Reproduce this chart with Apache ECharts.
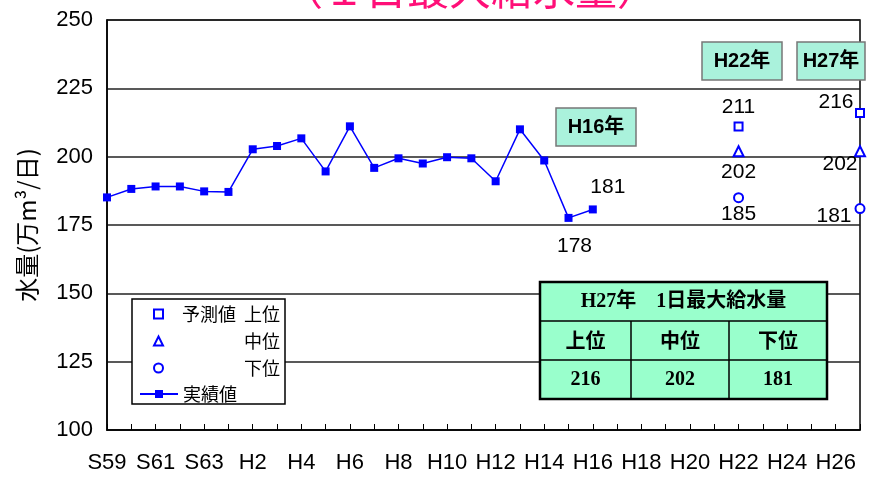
<!DOCTYPE html>
<html>
<head>
<meta charset="utf-8">
<script src="https://cdn.jsdelivr.net/npm/echarts@6.0.0/dist/echarts.min.js"></script>
<style>
  html, body { margin: 0; padding: 0; background: #fff; }
  #chart { width: 869px; height: 477px; }
</style>
</head>
<body>
<div id="chart"></div>
<script>
// 年度 S59〜H27
const years = ['S59', 'S60', 'S61', 'S62', 'S63', 'H1', 'H2', 'H3', 'H4', 'H5', 'H6', 'H7', 'H8', 'H9', 'H10',
  'H11', 'H12', 'H13', 'H14', 'H15', 'H16', 'H17', 'H18', 'H19', 'H20', 'H21', 'H22', 'H23', 'H24', 'H25', 'H26', 'H27']
// 実績値 S59〜H16（万m3/日）
const actual = [185.1, 188.2, 189.1, 189.1, 187.3, 187.1, 202.7, 203.9, 206.7, 194.6, 211.1, 195.9, 199.4, 197.5,
  199.8, 199.4, 191.0, 210.0, 198.6, 177.6, 180.7]
// 予測値
const forecastYears = ['H22', 'H27']
const forecastUpper = [211, 216]
const forecastMiddle = [202, 202]
const forecastLower = [185, 181]
// H27年 1日最大給水量 表
const tableTitle = 'H27年　1日最大給水量'
const tableHeads = ['上位', '中位', '下位']
const tableValues = [216, 202, 181]
// 注記
const yearNotes = ['H16年', 'H22年', 'H27年']

const cjk = '"Noto Sans CJK JP", sans-serif'
const latin = '"Liberation Sans", Arial, "Noto Sans CJK JP", sans-serif'
const blue = '#0000ff'

const chart = echarts.init(document.getElementById('chart'))

// ラベル位置（実績値の末尾2点のみ表示）
const actualLabelOffset = { 19: [6, 28], 20: [15, -22] }
const actualData = actual.map((v, i) => {
  const item = { value: v }
  if (actualLabelOffset[i]) {
    item.label = { show: true, position: 'inside', offset: actualLabelOffset[i] }
  }
  return item
})

function forecastData(values, offsets) {
  return forecastYears.map((y, i) => ({
    value: [y, values[i]],
    label: { show: true, position: 'inside', offset: offsets[i] },
  }))
}

const labelStyle = {
  fontFamily: latin,
  fontSize: 21,
  color: '#000',
  textBorderWidth: 0,
  textShadowBlur: 0,
  formatter: (p) => Math.round(Array.isArray(p.value) ? p.value[1] : p.value),
}

// 注記ボックス
const noteBoxes = [
  { x: 556, y: 108, w: 80, h: 38 },
  { x: 702, y: 42, w: 80, h: 38 },
  { x: 797, y: 42, w: 68, h: 38 },
]
const graphics = []
yearNotes.forEach((t, i) => {
  const b = noteBoxes[i]
  graphics.push({
    type: 'rect', z: 50,
    shape: { x: b.x, y: b.y, width: b.w, height: b.h },
    style: { fill: '#aaf2dc', stroke: '#777', lineWidth: 1.5 },
  })
  graphics.push({
    type: 'text', z: 51,
    x: b.x + b.w / 2, y: b.y + b.h / 2,
    style: { text: t, fill: '#000', font: 'bold 20px "Liberation Sans Narrow", "Liberation Sans", "Noto Sans CJK JP"', align: 'center', verticalAlign: 'middle' },
  })
})

// タイトル（上が切れている）
graphics.push({
  type: 'text', z: 51, x: 470, y: 10,
  style: { text: '（１日最大給水量）', fill: '#ff0f78', font: '42px "Noto Sans CJK JP"', align: 'center', verticalAlign: 'bottom' },
})

// 凡例枠
graphics.push({
  type: 'rect', z: 50,
  shape: { x: 132, y: 299, width: 153, height: 105 },
  style: { fill: '#fff', stroke: '#000', lineWidth: 1.5 },
})

// 表
const tx = [540, 631, 729, 827]
const ty = [282, 321, 360, 399]
graphics.push({
  type: 'rect', z: 50,
  shape: { x: tx[0], y: ty[0], width: tx[3] - tx[0], height: ty[3] - ty[0] },
  style: { fill: '#99ffcc', stroke: '#000', lineWidth: 2.5 },
})
graphics.push({ type: 'line', z: 51, shape: { x1: tx[0], y1: ty[1], x2: tx[3], y2: ty[1] }, style: { stroke: '#000', lineWidth: 1.5 } })
graphics.push({ type: 'line', z: 51, shape: { x1: tx[0], y1: ty[2], x2: tx[3], y2: ty[2] }, style: { stroke: '#000', lineWidth: 1.5 } })
graphics.push({ type: 'line', z: 51, shape: { x1: tx[1], y1: ty[1], x2: tx[1], y2: ty[3] }, style: { stroke: '#000', lineWidth: 1.5 } })
graphics.push({ type: 'line', z: 51, shape: { x1: tx[2], y1: ty[1], x2: tx[2], y2: ty[3] }, style: { stroke: '#000', lineWidth: 1.5 } })
graphics.push({
  type: 'text', z: 52, x: (tx[0] + tx[3]) / 2, y: (ty[0] + ty[1]) / 2,
  style: { text: tableTitle, fill: '#000', font: 'bold 20px "Liberation Serif", "Noto Sans CJK JP"', align: 'center', verticalAlign: 'middle' },
})
tableHeads.forEach((h, i) => {
  graphics.push({
    type: 'text', z: 52, x: (tx[i] + tx[i + 1]) / 2, y: (ty[1] + ty[2]) / 2,
    style: { text: h, fill: '#000', font: 'bold 20px "Noto Sans CJK JP"', align: 'center', verticalAlign: 'middle' },
  })
  graphics.push({
    type: 'text', z: 52, x: (tx[i] + tx[i + 1]) / 2, y: (ty[2] + ty[3]) / 2,
    style: { text: String(tableValues[i]), fill: '#000', font: 'bold 20px "Liberation Serif"', align: 'center', verticalAlign: 'middle' },
  })
})

const option = {
  animation: false,
  backgroundColor: '#fff',
  grid: {
    left: 107, right: 9, top: 20, bottom: 47,
    show: true, borderColor: '#000', borderWidth: 1.5,
  },
  legend: [
    {
      data: ['上位', '中位', '下位'],
      orient: 'vertical',
      left: 153, top: 305,
      padding: 0,
      itemWidth: 9, itemHeight: 9, itemGap: 9,
      z: 60,
      formatter: (name) => (name === '上位' ? '{g|}{a|予測値}{b|上位}' : '{g|}{a|}{b|' + name + '}'),
      textStyle: {
        fontFamily: cjk, fontSize: 18, color: '#000', lineHeight: 18,
        rich: { g: { width: 14 }, a: { width: 62, fontSize: 18, fontFamily: cjk }, b: { fontSize: 18, fontFamily: cjk } },
      },
    },
    {
      data: ['実績値'],
      left: 139, top: 385,
      padding: 0,
      itemWidth: 38, itemHeight: 10,
      z: 60,
      textStyle: { fontFamily: cjk, fontSize: 18, color: '#000', lineHeight: 18 },
    },
  ],
  xAxis: {
    type: 'category',
    data: years,
    boundaryGap: false,
    axisLine: { lineStyle: { color: '#000', width: 1.5 } },
    axisTick: { inside: true, length: 6, interval: 0, lineStyle: { color: '#000' } },
    axisLabel: { interval: 1, margin: 22, fontFamily: latin, fontSize: 22, color: '#000' },
    splitLine: { show: false },
  },
  yAxis: {
    type: 'value',
    min: 100, max: 250, interval: 25,
    name: '水量(万m³/日)',
    nameLocation: 'middle',
    nameRotate: 90,
    nameGap: 68,
    nameTextStyle: { fontFamily: cjk, fontSize: 24, color: '#000' },
    axisLine: { show: true, lineStyle: { color: '#000', width: 1.5 } },
    axisTick: { show: false },
    axisLabel: { margin: 14, fontFamily: latin, fontSize: 22, color: '#000' },
    splitLine: { lineStyle: { color: '#222', width: 1.5 } },
  },
  graphic: graphics,
  series: [
    {
      name: '実績値',
      type: 'line',
      data: actualData,
      symbol: 'rect',
      symbolSize: 8,
      color: blue,
      lineStyle: { width: 1.5, color: blue },
      label: labelStyle,
      z: 5,
    },
    {
      name: '上位',
      type: 'scatter',
      data: forecastData(forecastUpper, [[0, -19], [-24, -11]]),
      symbol: 'emptyRect',
      symbolSize: 8,
      itemStyle: { color: blue, borderColor: blue, borderWidth: 1.5, opacity: 1 },
      label: labelStyle,
      z: 5,
    },
    {
      name: '中位',
      type: 'scatter',
      data: forecastData(forecastMiddle, [[0, 21], [-20, 13]]),
      symbol: 'emptyTriangle',
      symbolSize: 10,
      itemStyle: { color: blue, borderColor: blue, borderWidth: 1.5, opacity: 1 },
      label: labelStyle,
      z: 5,
    },
    {
      name: '下位',
      type: 'scatter',
      data: forecastData(forecastLower, [[0, 17], [-26, 8]]),
      symbol: 'emptyCircle',
      symbolSize: 9,
      itemStyle: { color: blue, borderColor: blue, borderWidth: 1.5, opacity: 1 },
      label: labelStyle,
      z: 5,
    },
  ],
}

chart.setOption(option)
</script>
</body>
</html>
